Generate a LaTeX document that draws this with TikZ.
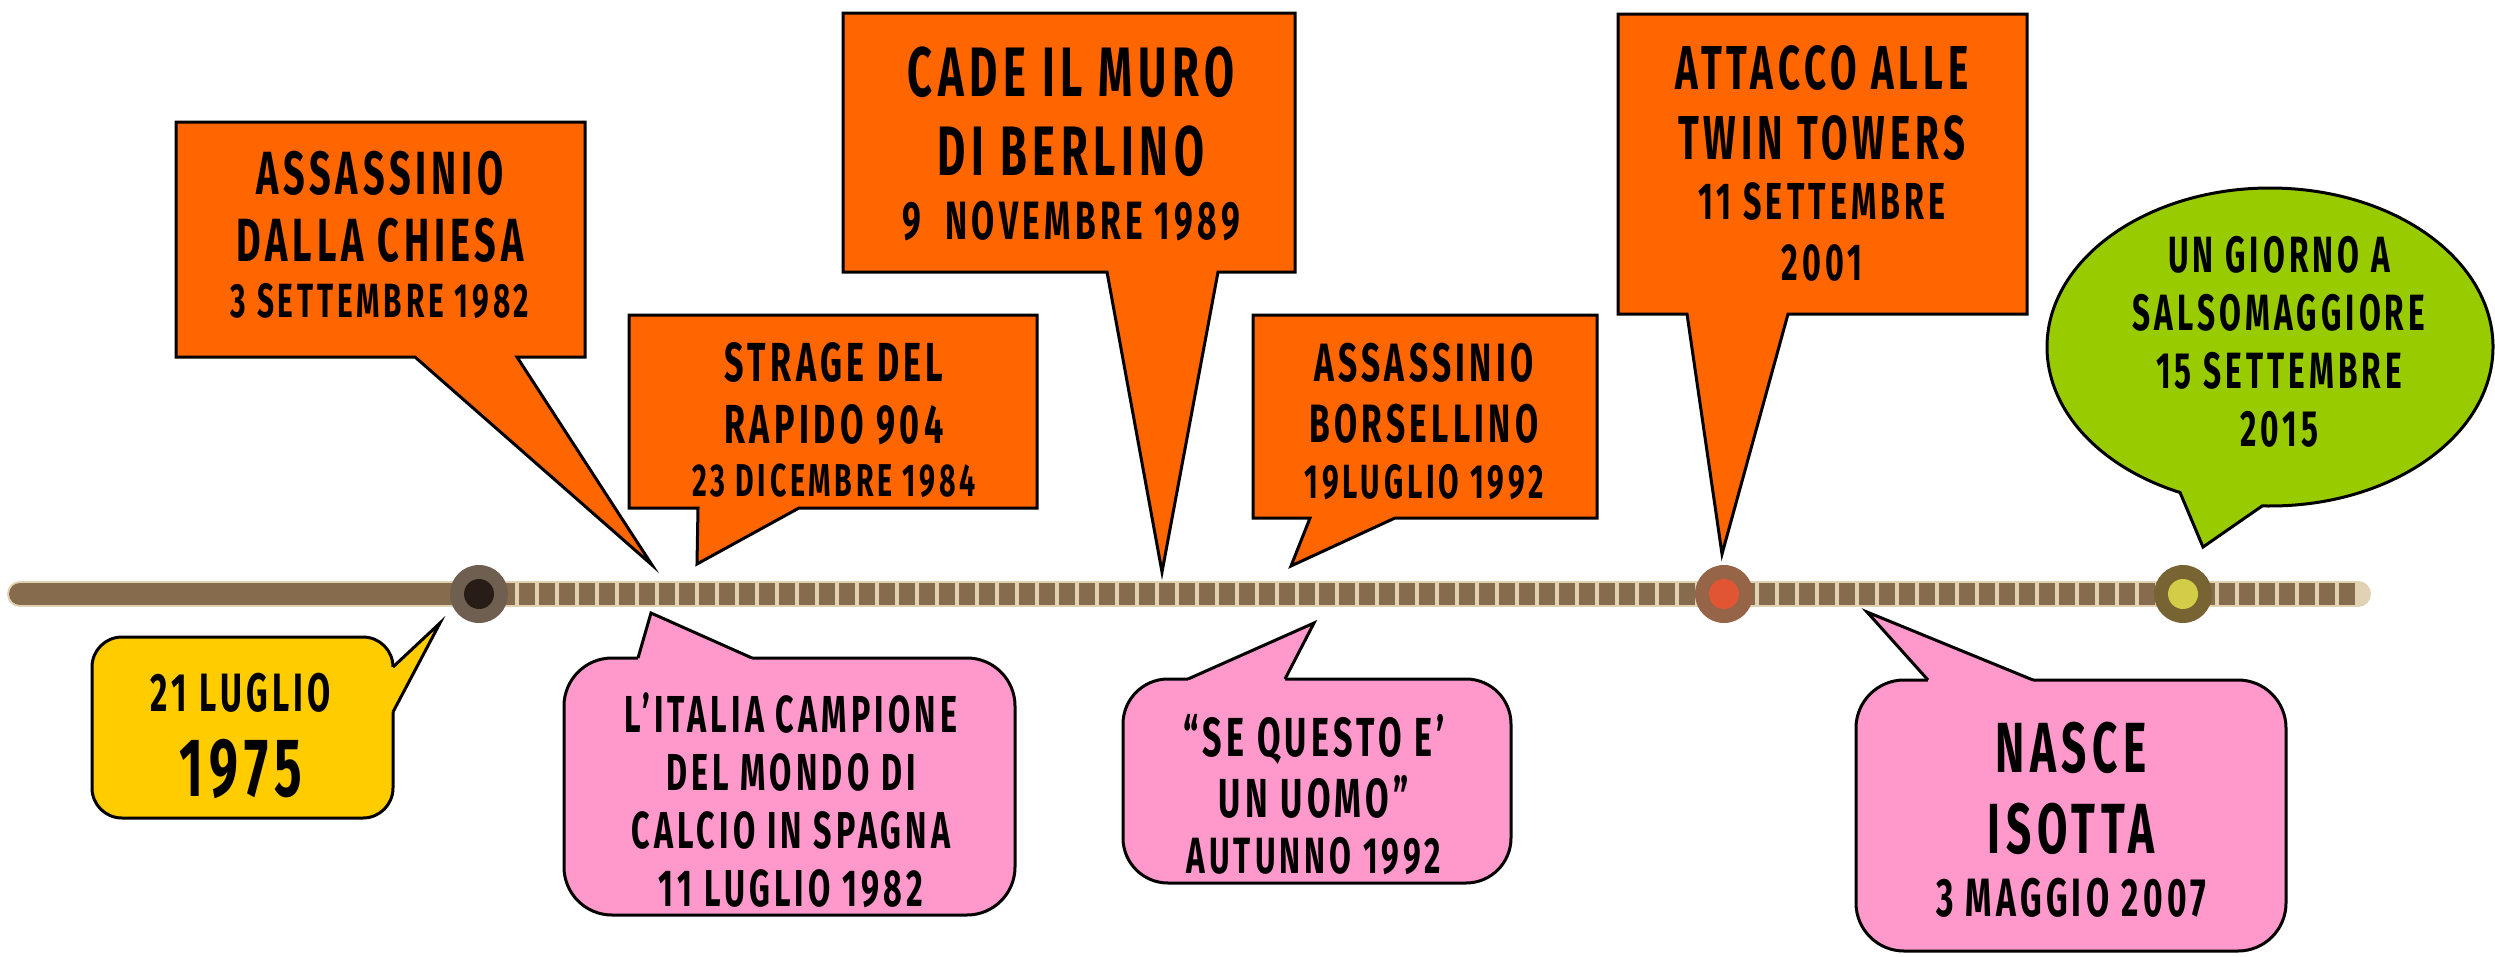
\documentclass[tikz,border=0pt]{standalone}
\usepackage{fontspec}
\usepackage{tikz}
\newfontfamily\stampfont{Fira Sans}[FakeStretch=0.62,LetterSpace=8]
\newcommand\stampsize[2]{\fontsize{#1}{#2}\selectfont}
\definecolor{calloutorange}{RGB}{255,102,0}
\definecolor{calloutpink}{RGB}{255,153,204}
\definecolor{calloutyellow}{RGB}{255,204,0}
\definecolor{calloutgreen}{RGB}{153,204,0}
\definecolor{barbrown}{RGB}{134,108,76}
\definecolor{bargap}{RGB}{226,210,180}
\tikzset{every picture/.style={line width=3pt},
  orangebox/.style={draw=black, fill=calloutorange},
  pinkbox/.style={draw=black, fill=calloutpink},
  yellowbox/.style={draw=black, fill=calloutyellow},
  greenbox/.style={draw=black, fill=calloutgreen},
  stamp/.style 2 args={anchor=north, inner sep=0pt, align=center, text=black,
    font=\stampfont\bfseries\stampsize{#1}{#2}},
  yeardot/.style={circle, inner sep=0pt, minimum size=58pt, draw=none},
  yearcore/.style={circle, inner sep=0pt, minimum size=30pt, draw=none}}

\begin{document}
\begin{tikzpicture}[x=1pt,y=1pt,yscale=-1,xscale=1]
\useasboundingbox (0,0) rectangle (2495,956);

%Timeline
\coordinate (tl-start) at (20,594);
\coordinate (tl-end) at (2358,594);
\coordinate (p1975) at (479,594);
\coordinate (p2001) at (1724,594);
\coordinate (p2015) at (2183,594);
\draw [bargap, line width=26pt, line cap=round] (tl-start) -- (tl-end);
\draw [barbrown, line width=22pt, line cap=round] (tl-start) -- (p1975);
\draw [barbrown, line width=22pt, dash pattern=on 16pt off 4pt] (p1975) -- (tl-end);

%Year dots
\node [yeardot, fill={rgb,255:red,110;green,95;blue,80}] (d1975) at (p1975) {};
\node [yearcore, fill={rgb,255:red,40;green,28;blue,22}] (d1975-core) at (p1975) {};
\node [yeardot, fill={rgb,255:red,150;green,100;blue,70}] (d2001) at (p2001) {};
\node [yearcore, fill={rgb,255:red,225;green,85;blue,50}] (d2001-core) at (p2001) {};
\node [yeardot, fill={rgb,255:red,120;green,100;blue,50}] (d2015) at (p2015) {};
\node [yearcore, fill={rgb,255:red,210;green,205;blue,70}] (d2015-core) at (p2015) {};

%Tips of the callouts
\coordinate (tip-nascita) at (440,623);
\coordinate (tip-chiesa) at (652,565);
\coordinate (tip-strage) at (697,564);
\coordinate (tip-italia) at (651,613);
\coordinate (tip-muro) at (1162,572);
\coordinate (tip-borsellino) at (1291,566);
\coordinate (tip-uomo) at (1314,623);
\coordinate (tip-twin) at (1722,554);
\coordinate (tip-isotta) at (1867,612);
\coordinate (tip-giorno) at (2203,547);

%Shape: Callout 21 luglio 1975
\draw [yellowbox, rounded corners=30] (92,637) rectangle (393,818);
\fill [calloutyellow] (388,667) -- (393,667) -- (tip-nascita) -- (393,712) -- (388,712) -- cycle;
\draw (393,667) -- (tip-nascita) -- (393,712);
%Shape: Callout dalla Chiesa
\draw [orangebox] (176,122) -- (585,122) -- (585,357) -- (517,357) -- (tip-chiesa) -- (415,357) -- (176,357) -- cycle;
%Shape: Callout rapido 904
\draw [orangebox] (629,315) -- (1037,315) -- (1037,508) -- (799,508) -- (tip-strage) -- (698,508) -- (629,508) -- cycle;
%Shape: Callout muro di Berlino
\draw [orangebox] (843,13) -- (1295,13) -- (1295,272) -- (1218,272) -- (tip-muro) -- (1107,272) -- (843,272) -- cycle;
%Shape: Callout Borsellino
\draw [orangebox] (1253,315) -- (1597,315) -- (1597,518) -- (1395,518) -- (tip-borsellino) -- (1310,518) -- (1253,518) -- cycle;
%Shape: Callout twin towers
\draw [orangebox] (1618,14) -- (2027,14) -- (2027,314) -- (1788,314) -- (tip-twin) -- (1687,314) -- (1618,314) -- cycle;
%Shape: Callout Italia campione
\draw [pinkbox, rounded corners=48] (564,658) rectangle (1015,915);
\fill [calloutpink] (638,663) -- (638,658) -- (tip-italia) -- (752,658) -- (752,663) -- cycle;
\draw (638,658) -- (tip-italia) -- (752,658);
%Shape: Callout se questo e' un uomo
\draw [pinkbox, rounded corners=45] (1123,679) rectangle (1511,883);
\fill [calloutpink] (1188,684) -- (1188,679) -- (tip-uomo) -- (1285,679) -- (1285,684) -- cycle;
\draw (1188,679) -- (tip-uomo) -- (1285,679);
%Shape: Callout nasce Isotta
\draw [pinkbox, rounded corners=48] (1856,680) rectangle (2286,951);
\fill [calloutpink] (1928,685) -- (1928,680) -- (tip-isotta) -- (2033,680) -- (2033,685) -- cycle;
\draw (1928,680) -- (tip-isotta) -- (2033,680);
%Shape: Callout Salsomaggiore
\coordinate (giorno-c) at (2270,347);
\draw [greenbox] (giorno-c) ++(92:223 and 159) arc [start angle=92, end angle=-246.2, x radius=223, y radius=159] -- (tip-giorno) -- cycle;

% Text Node
\node [stamp={54}{85}] (nascita) at (241,672) {21 LUGLIO\\{\stampsize{83}{83}1975}};
% Text Node
\node [stamp={61}{67}] (chiesa) at (380,150) {ASSASSINIO\\DALLA CHIESA\\[-11pt]{\stampsize{48}{48}3 SETTEMBRE 1982}};
% Text Node
\node [stamp={55}{62}] (strage) at (834,341) {STRAGE DEL\\RAPIDO 904\\[-9pt]{\stampsize{46}{46}23 DICEMBRE 1984}};
% Text Node
\node [stamp={70}{79}] (muro) at (1071,45) {CADE IL MURO\\DI BERLINO\\[-15pt]{\stampsize{54}{54}9~~NOVEMBRE 1989}};
% Text Node
\node [stamp={54}{61}] (borsellino) at (1424,342) {ASSASSINIO\\BORSELLINO\\[-5pt]{\stampsize{48}{48}19LUGLIO 1992}};
% Text Node
\node [stamp={62}{70}] (twin) at (1822,44) {ATTACCO ALLE\\TWIN TOWERS\\[-10pt]{\stampsize{52}{52}11 SETTEMBRE}\\[-9pt]{\stampsize{52}{52}2001}};
% Text Node
\node [stamp={51}{58}] (giorno) at (2279,235) {UN GIORNO A\\SALSOMAGGIORE\\15 SETTEMBRE\\2015};
% Text Node
\node [stamp={52}{58}] (italia) at (791,691) {L’ITALIA CAMPIONE\\DEL MONDO DI\\CALCIO IN SPAGNA\\11 LUGLIO 1982};
% Text Node
\node [stamp={55}{61}] (uomo) at (1314,713) {“SE QUESTO E’\\UN UOMO”\\[-5pt]{\stampsize{51}{51}AUTUNNO 1992}};
% Text Node
\node [stamp={71}{81}] (isotta) at (2071,721) {NASCE\\ISOTTA\\[-18pt]{\stampsize{54}{54}3 MAGGIO 2007}};

\end{tikzpicture}
\end{document}
